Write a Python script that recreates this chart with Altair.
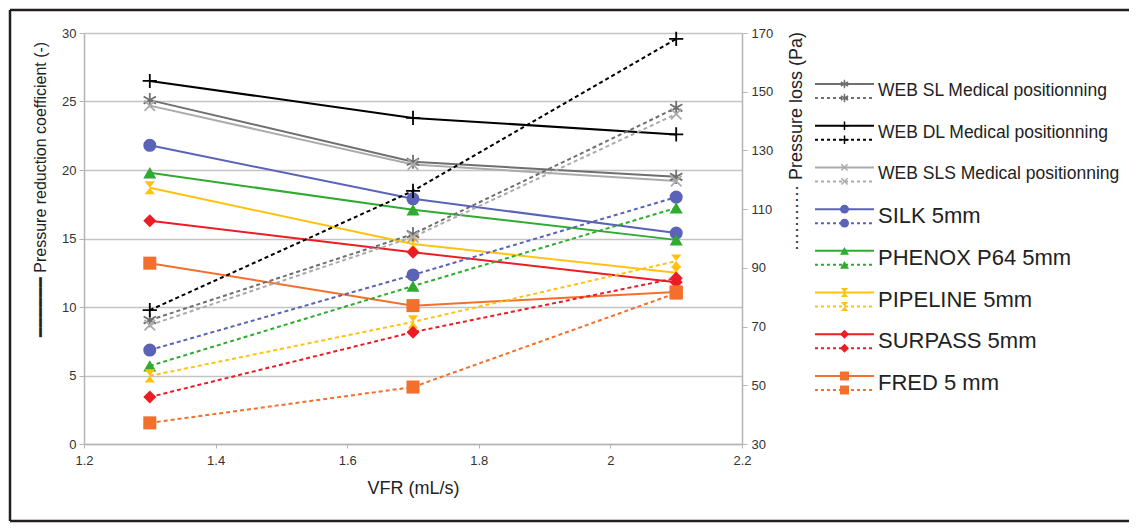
import altair as alt
import pandas as pd

# ---------------- data ----------------
series = [
    "WEB SL Medical positionning",
    "WEB DL Medical positionning",
    "WEB SLS Medical positionning",
    "SILK 5mm",
    "PHENOX P64 5mm",
    "PIPELINE 5mm",
    "SURPASS 5mm",
    "FRED 5 mm",
]
vfr = [1.3, 1.7, 2.1]

# Pressure reduction coefficient (-)  -> solid lines, left axis
coef_web_sl = [25.1, 20.6, 19.5]
coef_web_dl = [26.5, 23.8, 22.6]
coef_web_sls = [24.7, 20.4, 19.2]
coef_silk = [21.8, 17.9, 15.4]
coef_phenox = [19.8, 17.1, 14.9]
coef_pipeline = [18.7, 14.6, 12.5]
coef_surpass = [16.3, 14.0, 11.8]
coef_fred = [13.2, 10.1, 11.1]

# Pressure loss (Pa) -> dotted lines, right axis
loss_web_sl = [72.2, 101.5, 144.5]
loss_web_dl = [75.6, 116.2, 168.0]
loss_web_sls = [70.5, 100.5, 142.4]
loss_silk = [62.0, 87.6, 114.1]
loss_phenox = [56.6, 83.8, 110.4]
loss_pipeline = [53.2, 71.6, 92.3]
loss_surpass = [46.0, 68.1, 86.5]
loss_fred = [37.2, 49.4, 81.4]

x_ticks = [1.2, 1.4, 1.6, 1.8, 2.0, 2.2]
left_ticks = [0, 5, 10, 15, 20, 25, 30]
right_ticks = [30, 50, 70, 90, 110, 130, 150, 170]

coef_all = [coef_web_sl, coef_web_dl, coef_web_sls, coef_silk,
            coef_phenox, coef_pipeline, coef_surpass, coef_fred]
loss_all = [loss_web_sl, loss_web_dl, loss_web_sls, loss_silk,
            loss_phenox, loss_pipeline, loss_surpass, loss_fred]

# ---------------- styles ----------------
colors = ["#6f6f6f", "#000000", "#ababab", "#5a63b8",
          "#2fab30", "#ffc20e", "#ec1c24", "#f36f2b"]
ASTERISK = "M0,-1L0,1M-0.87,-0.5L0.87,0.5M-0.87,0.5L0.87,-0.5"
PLUS = "M-1,0L1,0M0,-1L0,1"
XMARK = "M-0.75,-0.75L0.75,0.75M-0.75,0.75L0.75,-0.75"
HOURGLASS = "M-0.8,-1L0.8,-1L0,0L0.8,1L-0.8,1L0,0Z"
shapes = [ASTERISK, PLUS, XMARK, "circle", "triangle-up", HOURGLASS, "diamond", "square"]
stroked_series = series[:3]

rows = []
for name, c, l in zip(series, coef_all, loss_all):
    for xv, cv, lv in zip(vfr, c, l):
        rows.append({"series": name, "vfr": xv, "coef": cv, "loss": lv})
df = pd.DataFrame(rows)
df_str = df[df["series"].isin(stroked_series)]
df_fil = df[~df["series"].isin(stroked_series)]

leg = pd.DataFrame({"series": series, "lx0": 0.0, "lx1": 1.0, "lm": 0.5})
leg_str = leg[leg["series"].isin(stroked_series)]
leg_fil = leg[~leg["series"].isin(stroked_series)]

FONT = "Liberation Sans"
GRID = "#c4c4c4"
AXC = "#b5b5b5"

color = alt.Color("series:N", scale=alt.Scale(domain=series, range=colors), legend=None)
shape = alt.Shape("series:N", scale=alt.Scale(domain=series, range=shapes), legend=None)

xscale = alt.Scale(domain=[1.2, 2.2], nice=False, zero=False)
lscale = alt.Scale(domain=[0, 30], nice=False, zero=False)
rscale = alt.Scale(domain=[30, 170], nice=False, zero=False)

X = alt.X("vfr:Q", scale=xscale, axis=None)
X_ax = alt.X("vfr:Q", scale=xscale, axis=alt.Axis(
    values=x_ticks, format="~g", grid=False, title="VFR (mL/s)", labelFlush=False,
    domainColor=AXC, domainWidth=1.5, tickColor=AXC, tickSize=4,
    labelFontSize=13, labelColor="#333333", labelPadding=6,
    titleFontSize=18, titleFontWeight="normal", titleColor="#222222",
    titleY=44, titleBaseline="middle"))
YL = alt.Y("coef:Q", scale=lscale, axis=None)
YL_ax = alt.Y("coef:Q", scale=lscale, axis=alt.Axis(
    orient="left", values=left_ticks, grid=True, gridColor=GRID, gridWidth=1.5, labelFlush=False,
    domainColor=AXC, domainWidth=1.5, tickColor=AXC, tickSize=5,
    labelFontSize=13, labelColor="#333333", labelPadding=3,
    title="\u2501\u2501\u2501\u2501\u2501\u2501 Pressure reduction coefficient (-)",
    titleFontSize=16, titleFontWeight="normal", titleColor="#222222",
    titleAngle=-90, titleX=-44, titleY=156, titleAlign="center", titleBaseline="middle"))
YR = alt.Y("loss:Q", scale=rscale, axis=None)
YR_ax = alt.Y("loss:Q", scale=rscale, axis=alt.Axis(
    orient="right", values=right_ticks, grid=False, labelFlush=False,
    domainColor=AXC, domainWidth=1.5, tickColor=AXC, tickSize=5,
    labelFontSize=13, labelColor="#333333", labelPadding=4,
    title="\u00b7\u00b7\u00b7\u00b7\u00b7\u00b7\u00b7\u00b7\u00b7\u00b7\u00b7 Pressure loss (Pa)",
    titleFontSize=18, titleFontWeight="normal", titleColor="#222222",
    titleAngle=-90, titleX=54, titleY=108, titleAlign="center", titleBaseline="middle"))

DASH = [4, 3]

solid_line = alt.Chart(df).mark_line(strokeWidth=2).encode(x=X_ax, y=YL_ax, color=color)
dash_line = alt.Chart(df).mark_line(strokeWidth=2, strokeDash=DASH).encode(x=X, y=YR_ax, color=color)
solid_ps = alt.Chart(df_str).mark_point(filled=False, opacity=1, strokeWidth=1.8, size=200).encode(
    x=X, y=YL, color=color, shape=shape)
solid_pf = alt.Chart(df_fil).mark_point(filled=True, opacity=1, size=170).encode(
    x=X, y=YL, color=color, shape=shape)
dash_ps = alt.Chart(df_str).mark_point(filled=False, opacity=1, strokeWidth=1.8, size=200).encode(
    x=X, y=YR, color=color, shape=shape)
dash_pf = alt.Chart(df_fil).mark_point(filled=True, opacity=1, size=170).encode(
    x=X, y=YR, color=color, shape=shape)

# ---------------- legend (own scales) ----------------
lxs = alt.Scale(domain=[0, 1], range=[731, 790])
LY = alt.Y("series:N", scale=alt.Scale(type="point", domain=series, range=[58, 350], padding=0), axis=None)

leg_solid = alt.Chart(leg).mark_rule(strokeWidth=2, yOffset=-7).encode(
    x=alt.X("lx0:Q", scale=lxs, axis=None), x2="lx1:Q", y=LY, color=color)
leg_dash = alt.Chart(leg).mark_rule(strokeWidth=2, strokeDash=[3, 3], yOffset=7).encode(
    x=alt.X("lx0:Q", scale=lxs, axis=None), x2="lx1:Q", y=LY, color=color)
leg_layers = []
for off in (-7, 7):
    leg_layers.append(alt.Chart(leg_str).mark_point(filled=False, opacity=1, strokeWidth=1.5, size=70, yOffset=off).encode(
        x=alt.X("lm:Q", scale=lxs, axis=None), y=LY, color=color, shape=shape))
    leg_layers.append(alt.Chart(leg_fil).mark_point(filled=True, opacity=1, size=80, yOffset=off).encode(
        x=alt.X("lm:Q", scale=lxs, axis=None), y=LY, color=color, shape=shape))
leg_text_small = alt.Chart(leg_str).mark_text(align="left", baseline="middle", dx=4, fontSize=17.5, color="#222222", font=FONT).encode(
    x=alt.X("lx1:Q", scale=lxs, axis=None), y=LY, text="series:N")
leg_text_big = alt.Chart(leg_fil).mark_text(align="left", baseline="middle", dx=4, fontSize=22, color="#222222", font=FONT).encode(
    x=alt.X("lx1:Q", scale=lxs, axis=None), y=LY, text="series:N")

# ---------------- decorative frame ----------------
fd = pd.DataFrame({"k": [0]})
FC = "#231f20"
frame_top = alt.Chart(fd).mark_rule(color=FC, strokeWidth=2.5).encode(
    x=alt.value(-74), x2=alt.value(1045), y=alt.value(-23))
frame_left = alt.Chart(fd).mark_rule(color=FC, strokeWidth=2.5).encode(
    x=alt.value(-74), y=alt.value(-23), y2=alt.value(488))
frame_bottom = alt.Chart(fd).mark_rule(color=FC, strokeWidth=2.5).encode(
    x=alt.value(-74), x2=alt.value(1045), y=alt.value(488))

chart = alt.layer(
    frame_top, frame_left, frame_bottom,
    solid_line, dash_line, solid_ps, solid_pf, dash_ps, dash_pf,
    leg_solid, leg_dash, *leg_layers, leg_text_small, leg_text_big,
).resolve_scale(
    x="independent", y="independent"
).properties(
    width=658, height=411, padding=0, background="white"
).configure(
    font=FONT
).configure_view(
    stroke=None
)

chart.save("out.html", embed_options={"renderer": "svg", "actions": False})
